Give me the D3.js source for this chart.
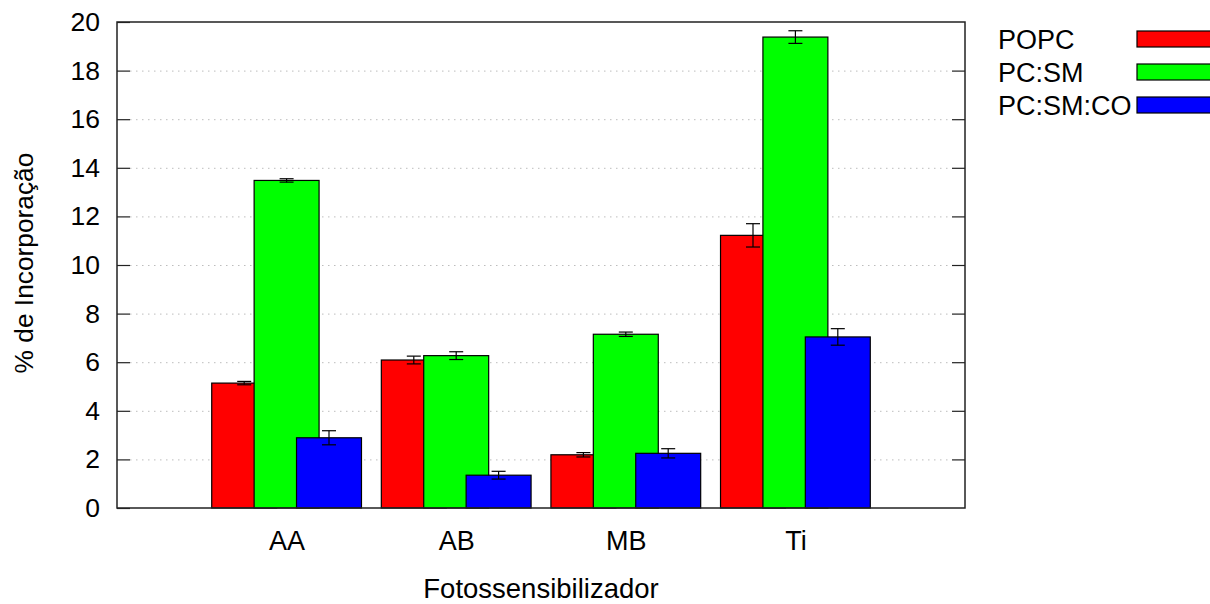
<!DOCTYPE html>
<html>
<head>
<meta charset="utf-8">
<script src="https://cdn.jsdelivr.net/npm/d3@7"></script>
<style>
  html, body { margin: 0; padding: 0; background: #fff; }
  svg { display: block; font-family: "Liberation Sans", Arial, sans-serif; }
</style>
</head>
<body>
<svg id="chart" width="1210" height="604"></svg>
<script>
// Photosensitizer incorporation in three lipid compositions
const categories = ["AA", "AB", "MB", "Ti"];
const seriesNames = ["POPC", "PC:SM", "PC:SM:CO"];
const seriesColors = ["#ff0000", "#00ff00", "#0000ff"];

const popc       = [5.14, 6.09, 2.19, 11.22];
const popcErr    = [0.07, 0.16, 0.09, 0.48];
const pcsm       = [13.48, 6.27, 7.15, 19.38];
const pcsmErr    = [0.07, 0.16, 0.09, 0.26];
const pcsmco     = [2.89, 1.35, 2.25, 7.04];
const pcsmcoErr  = [0.29, 0.16, 0.19, 0.34];

const yTicks = [0, 2, 4, 6, 8, 10, 12, 14, 16, 18, 20];

const seriesValues = [popc, pcsm, pcsmco];
const seriesErrors = [popcErr, pcsmErr, pcsmcoErr];

const svg = d3.select("#chart");
const plot = { left: 117, right: 965, top: 22, bottom: 508 };

// group index on a continuous axis; bars sit at ±0.25 around each group
const x = d3.scaleLinear().domain([-1, 4]).range([plot.left, plot.right]);
const y = d3.scaleLinear().domain([0, 20]).range([plot.bottom, plot.top]);
const barOffset = [-0.25, 0, 0.25];
const barWidth = 0.383;
const capHalf = 7;

// dotted horizontal grid
svg.append("g").selectAll("line")
  .data(yTicks.slice(1, -1))
  .join("line")
  .attr("x1", plot.left + 13).attr("x2", plot.right - 13)
  .attr("y1", d => y(d) + 0.5).attr("y2", d => y(d) + 0.5)
  .attr("stroke", "#bdbdbd").attr("stroke-width", 1)
  .attr("stroke-dasharray", "1.5,4.5");

// bars, drawn group by group so later series overlap earlier ones
const bars = [];
categories.forEach((c, i) => {
  seriesValues.forEach((vals, s) => {
    bars.push({ i, s, v: vals[i], e: seriesErrors[s][i] });
  });
});

const gBars = svg.append("g");
gBars.selectAll("rect")
  .data(bars)
  .join("rect")
  .attr("x", d => x(d.i + barOffset[d.s] - barWidth / 2))
  .attr("width", d => x(barWidth) - x(0))
  .attr("y", d => y(d.v))
  .attr("height", d => y(0) - y(d.v))
  .attr("fill", d => seriesColors[d.s])
  .attr("stroke", "#000").attr("stroke-width", 1.2);

// error bars
const gErr = svg.append("g").attr("stroke", "#000").attr("stroke-width", 1.2);
bars.forEach(d => {
  const cx = x(d.i + barOffset[d.s]);
  const y1 = y(d.v + d.e), y2 = y(d.v - d.e);
  gErr.append("line").attr("x1", cx).attr("x2", cx).attr("y1", y1).attr("y2", y2);
  gErr.append("line").attr("x1", cx - capHalf).attr("x2", cx + capHalf).attr("y1", y1).attr("y2", y1);
  gErr.append("line").attr("x1", cx - capHalf).attr("x2", cx + capHalf).attr("y1", y2).attr("y2", y2);
});

// frame
svg.append("rect")
  .attr("x", plot.left).attr("y", plot.top)
  .attr("width", plot.right - plot.left).attr("height", plot.bottom - plot.top)
  .attr("fill", "none").attr("stroke", "#222").attr("stroke-width", 1.5);

// y axis: inward ticks on both sides
const yAxisL = d3.axisLeft(y).tickValues(yTicks).tickSize(-13).tickPadding(17).tickFormat(d3.format("d"));
const gyL = svg.append("g").attr("transform", `translate(${plot.left},0)`).call(yAxisL);
gyL.select(".domain").remove();
gyL.selectAll(".tick line").attr("stroke", "#222").attr("stroke-width", 1.2);
gyL.selectAll(".tick text").attr("font-size", 26.5).attr("fill", "#000")
  .attr("font-family", "Liberation Sans, Arial, sans-serif");

const yAxisR = d3.axisRight(y).tickValues(yTicks.slice(1, -1)).tickSize(-13).tickFormat("");
const gyR = svg.append("g").attr("transform", `translate(${plot.right},0)`).call(yAxisR);
gyR.select(".domain").remove();
gyR.selectAll(".tick line").attr("stroke", "#222").attr("stroke-width", 1.2);

// category labels
const xAxis = d3.axisBottom(x).tickValues(d3.range(categories.length))
  .tickSize(0).tickPadding(23).tickFormat(i => categories[i]);
const gx = svg.append("g").attr("transform", `translate(0,${plot.bottom})`).call(xAxis);
gx.select(".domain").remove();
gx.selectAll(".tick text").attr("font-size", 27).attr("fill", "#000")
  .attr("font-family", "Liberation Sans, Arial, sans-serif");

// axis titles
svg.append("text")
  .attr("x", (plot.left + plot.right) / 2).attr("y", 598)
  .attr("text-anchor", "middle").attr("font-size", 27.5)
  .text("Fotossensibilizador");

svg.append("text")
  .attr("transform", `translate(33,${(plot.top + plot.bottom) / 2 - 2}) rotate(-90)`)
  .attr("text-anchor", "middle").attr("font-size", 26.3)
  .text("% de Incorporação");

// legend
const legend = svg.append("g");
seriesNames.forEach((name, s) => {
  const row = legend.append("g").attr("transform", `translate(0,${s * 33})`);
  row.append("text").attr("x", 998).attr("y", 49).attr("font-size", 27).text(name);
  row.append("rect").attr("x", 1137).attr("y", 31).attr("width", 90).attr("height", 16)
    .attr("fill", seriesColors[s]).attr("stroke", "#000").attr("stroke-width", 1.2);
});
</script>
</body>
</html>
